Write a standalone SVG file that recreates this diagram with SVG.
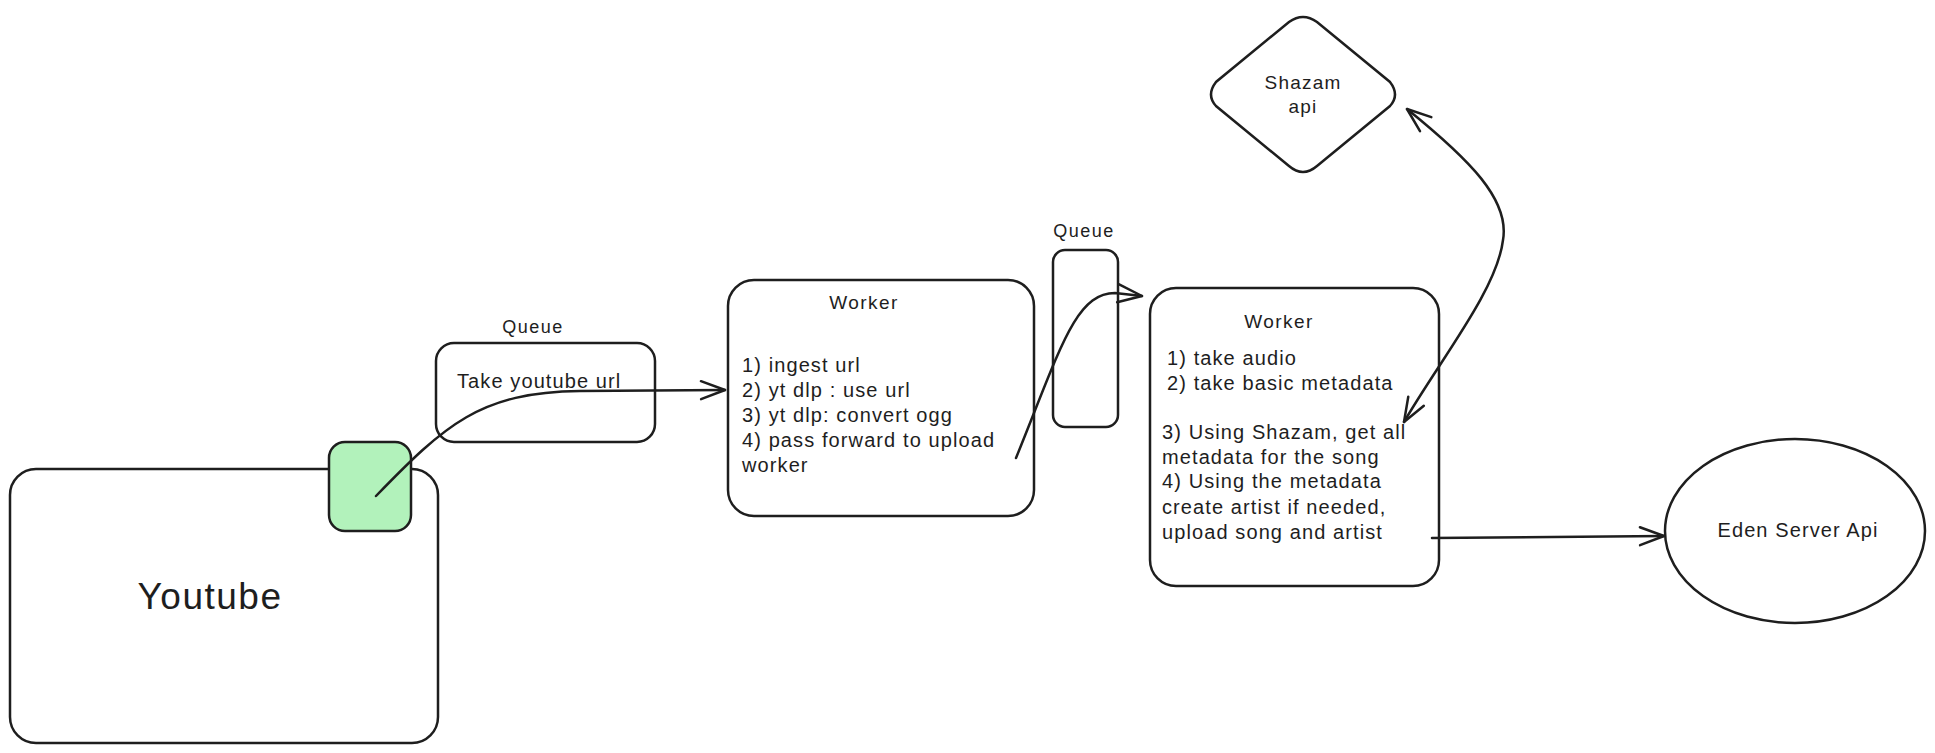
<svg xmlns="http://www.w3.org/2000/svg" width="1935" height="753" viewBox="0 0 1935 753">
<style>
.box{fill:none;stroke:#1e1e1e;stroke-width:2.5}
.t{font-family:"Liberation Sans",Arial,sans-serif;fill:#1e1e1e;font-size:20px;letter-spacing:1.1px}
.c{text-anchor:middle}
.edge{fill:none;stroke:#1e1e1e;stroke-width:2.5;stroke-linecap:round}
</style>
<defs>
<marker id="ah" markerUnits="userSpaceOnUse" markerWidth="30" markerHeight="24" refX="26" refY="12" orient="auto-start-reverse" viewBox="0 0 30 24">
<path d="M2,3 L26,12 L2,21" fill="none" stroke="#1e1e1e" stroke-width="2.5" stroke-linecap="round" stroke-linejoin="round"/>
</marker>
</defs>
<rect width="1935" height="753" fill="#ffffff"/>
<g id="youtube">
<rect class="box" x="10" y="469" width="428" height="274" rx="26"/>
<text class="t c" x="210" y="609" style="font-size:37px;letter-spacing:1.5px">Youtube</text>
</g>
<g id="port">
<rect x="329" y="442" width="82" height="89" rx="16" fill="#b2f2bb" stroke="#1e1e1e" stroke-width="2.5"/>
</g>
<g id="queue1">
<text class="t c" x="533" y="333" style="font-size:18px;letter-spacing:1.5px">Queue</text>
<rect class="box" x="436" y="343" width="219" height="99" rx="18"/>
<text class="t" x="457" y="388">Take youtube url</text>
</g>
<g id="worker1">
<rect class="box" x="728" y="280" width="306" height="236" rx="26"/>
<text class="t c" x="864" y="309" style="font-size:19px;letter-spacing:1.4px">Worker</text>
<text class="t" x="742" y="372">1) ingest url</text>
<text class="t" x="742" y="397">2) yt dlp : use url</text>
<text class="t" x="742" y="422">3) yt dlp: convert ogg</text>
<text class="t" x="742" y="447">4) pass forward to upload</text>
<text class="t" x="742" y="472">worker</text>
</g>
<g id="queue2">
<text class="t c" x="1084" y="237" style="font-size:18px;letter-spacing:1.5px">Queue</text>
<rect class="box" x="1053" y="250" width="65" height="177" rx="12"/>
</g>
<g id="worker2">
<rect class="box" x="1150" y="288" width="289" height="298" rx="26"/>
<text class="t c" x="1279" y="328" style="font-size:19px;letter-spacing:1.4px">Worker</text>
<text class="t" x="1167" y="365">1) take audio</text>
<text class="t" x="1167" y="390">2) take basic metadata</text>
<text class="t" x="1162" y="439">3) Using Shazam, get all</text>
<text class="t" x="1162" y="464">metadata for the song</text>
<text class="t" x="1162" y="488">4) Using the metadata</text>
<text class="t" x="1162" y="514">create artist if needed,</text>
<text class="t" x="1162" y="539">upload song and artist</text>
</g>
<g id="shazam">
<path class="box" d="M1289,22 Q1303,12 1317,22 L1390,82 Q1400,95 1390,106 L1317,166 Q1303,178 1289,166 L1216,106 Q1206,95 1216,82 Z"/>
<text class="t c" x="1303" y="89" style="font-size:19px;letter-spacing:1.2px">Shazam</text>
<text class="t c" x="1303" y="113" style="font-size:19px;letter-spacing:1.2px">api</text>
</g>
<g id="eden">
<ellipse class="box" cx="1795" cy="531" rx="130" ry="92"/>
<text class="t c" x="1798" y="537">Eden Server Api</text>
</g>
<g id="connectors">
<path class="edge" d="M376,496 C 445,425 480,392 580,391 L725,390" marker-end="url(#ah)"/>
<path class="edge" d="M1016,458 C 1060,350 1075,293 1115,293 L1142,296" marker-end="url(#ah)"/>
<path class="edge" d="M1407,109 C 1470,160 1510,200 1503,240 C 1497,290 1440,360 1404,422" marker-start="url(#ah)" marker-end="url(#ah)"/>
<path class="edge" d="M1432,538 L1664,536" marker-end="url(#ah)"/>
</g>
</svg>
